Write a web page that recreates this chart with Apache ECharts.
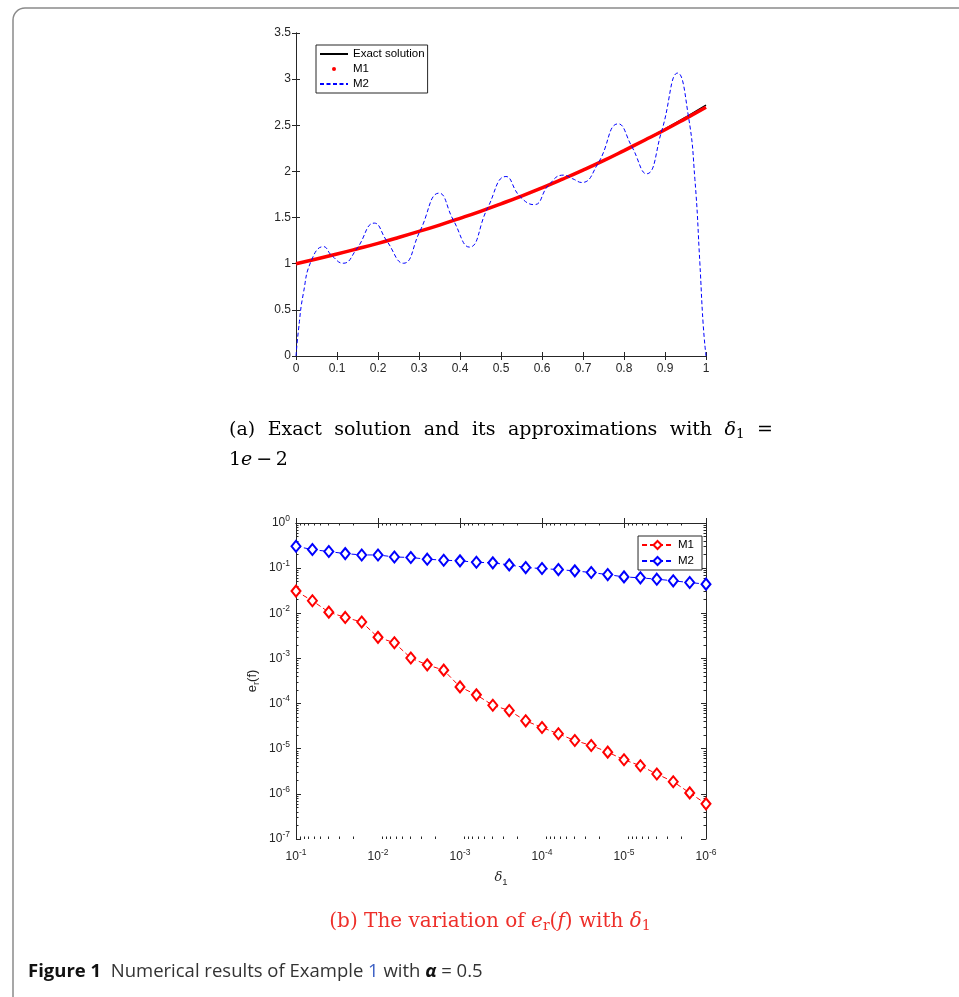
<!DOCTYPE html>
<html><head><meta charset="utf-8">
<script src="https://cdn.jsdelivr.net/npm/echarts@6/dist/echarts.min.js"></script>
<style>html,body{margin:0;padding:0;background:#fff;}#c{width:959px;height:997px;}</style>
</head><body><div id="c"></div>
<script>
// ---------- Panel (a) data ----------
const xExact = [0,0.05,0.1,0.15,0.2,0.25,0.3,0.35,0.4,0.45,0.5,0.55,0.6,0.65,0.7,0.75,0.8,0.85,0.9,0.95,1];
const exactVals = [1.000,1.051,1.105,1.162,1.221,1.284,1.350,1.419,1.492,1.568,1.649,1.733,1.822,1.916,2.014,2.117,2.226,2.340,2.460,2.586,2.718];
const m1Vals = [1.000,1.051,1.105,1.162,1.221,1.284,1.350,1.419,1.492,1.568,1.649,1.733,1.822,1.916,2.014,2.117,2.226,2.338,2.452,2.572,2.695];
const xM2 = [0,0.006,0.018,0.038,0.067,0.087,0.115,0.148,0.191,0.221,0.262,0.302,0.349,0.384,0.423,0.467,0.512,0.546,0.581,0.616,0.652,0.675,0.697,0.737,0.786,0.819,0.855,0.892,0.931,0.957,0.973,0.985,0.993,1];
const m2Vals = [0,0.28,0.68,1.04,1.185,1.09,1.005,1.16,1.44,1.25,1.005,1.35,1.765,1.47,1.18,1.60,1.945,1.73,1.64,1.85,1.96,1.92,1.88,2.09,2.516,2.27,1.974,2.44,3.066,2.60,1.91,1.01,0.35,0];

// ---------- Panel (b) data ----------
const deltaVals = [1e-1,6.31e-2,3.98e-2,2.51e-2,1.58e-2,1e-2,6.31e-3,3.98e-3,2.51e-3,1.58e-3,1e-3,6.31e-4,3.98e-4,2.51e-4,1.58e-4,1e-4,6.31e-5,3.98e-5,2.51e-5,1.58e-5,1e-5,6.31e-6,3.98e-6,2.51e-6,1.58e-6,1e-6];
const errM1 = [3.1e-2,1.89e-2,1.06e-2,8.1e-3,6.4e-3,2.93e-3,2.23e-3,1.02e-3,7.2e-4,5.5e-4,2.34e-4,1.56e-4,9.2e-5,7.0e-5,4.15e-5,2.95e-5,2.14e-5,1.52e-5,1.18e-5,8.4e-6,5.7e-6,4.2e-6,2.75e-6,1.86e-6,1.05e-6,6.0e-7];
const errM2 = [0.305,0.258,0.233,0.21,0.196,0.196,0.177,0.172,0.158,0.15,0.145,0.135,0.131,0.118,0.103,0.098,0.093,0.087,0.080,0.072,0.064,0.061,0.057,0.0524,0.048,0.0442];

// tick definitions
const minorMult = [2,3,4,5,6,7,8,9];
function minorTicks(lo, hi){ const out=[]; for(let n=lo;n<hi;n++){ for(const k of minorMult){ out.push(n+Math.log10(k)); } } return out; }
const minorY = minorTicks(-7, 0);
const minorX = minorTicks(-6, -1);

const AX = '#262626';
const FONT = 'Liberation Sans';
const tickLab = {color: AX, fontFamily: FONT, fontSize: 12};
const supRich = {base:{fontSize:12,fontFamily:FONT,color:AX}, sup:{fontSize:8.5,fontFamily:FONT,color:AX,padding:[0,0,9,0]}};
function powLabel(v){ const e=Math.round(Math.log10(v)); return '{base|10}{sup|'+e+'}'; }

const chart = echarts.init(document.getElementById('c'), null, {renderer:'canvas'});

const gridA = {left:296, right:253, top:33, bottom:641};
const gridB = {left:296, right:253, top:523, bottom:158};

function pairs(xs, ys){ return xs.map((x,i)=>[x, ys[i]]); }

const boxLine = {show:true, lineStyle:{color:AX, width:1}};
const capRed = '#ee2f2a';
const option = {
  animation:false,
  backgroundColor:'#fff',
  grid:[gridA, gridB],
  xAxis:[
    {gridIndex:0, type:'value', min:0, max:1, interval:0.1, position:'bottom',
     axisLine:boxLine, axisTick:{inside:true,length:4,lineStyle:{color:AX}}, splitLine:{show:false},
     axisLabel:Object.assign({margin:7, formatter:v=>String(+v.toFixed(1))}, tickLab)},
    {gridIndex:0, type:'value', min:0, max:1, interval:0.1, position:'top',
     axisLine:boxLine, axisTick:{inside:true,length:4,lineStyle:{color:AX}}, splitLine:{show:false}, axisLabel:{show:false}},
    {gridIndex:1, type:'log', logBase:10, min:1e-6, max:1e-1, inverse:true, position:'bottom',
     axisLine:boxLine, axisTick:{inside:true,length:5,lineStyle:{color:AX}}, splitLine:{show:false}, minorTick:{show:false},
     axisLabel:{margin:9, formatter:powLabel, rich:supRich},
     name:'{d|δ}{s|1}', nameLocation:'middle', nameGap:30,
     nameTextStyle:{rich:{d:{fontSize:13,fontFamily:'DejaVu Serif',fontStyle:'italic',color:AX}, s:{fontSize:9.5,fontFamily:FONT,color:AX,padding:[8,0,0,0]}}}},
    {gridIndex:1, type:'log', logBase:10, min:1e-6, max:1e-1, inverse:true, position:'top',
     axisLine:boxLine, axisTick:{inside:true,length:5,lineStyle:{color:AX}}, splitLine:{show:false}, axisLabel:{show:false}},
    {gridIndex:1, type:'value', min:-6, max:-1, inverse:true, position:'bottom',
     axisLine:{show:false}, axisTick:{inside:true,length:2.5,customValues:minorX,lineStyle:{color:AX}}, splitLine:{show:false}, axisLabel:{show:false}},
    {gridIndex:1, type:'value', min:-6, max:-1, inverse:true, position:'top',
     axisLine:{show:false}, axisTick:{inside:true,length:2.5,customValues:minorX,lineStyle:{color:AX}}, splitLine:{show:false}, axisLabel:{show:false}}
  ],
  yAxis:[
    {gridIndex:0, type:'value', min:0, max:3.5, interval:0.5, position:'left',
     axisLine:boxLine, axisTick:{inside:true,length:4,lineStyle:{color:AX}}, splitLine:{show:false},
     axisLabel:Object.assign({margin:5}, tickLab)},
    {gridIndex:0, type:'value', min:0, max:3.5, interval:0.5, position:'right',
     axisLine:boxLine, axisTick:{inside:true,length:4,lineStyle:{color:AX}}, splitLine:{show:false}, axisLabel:{show:false}},
    {gridIndex:1, type:'log', logBase:10, min:1e-7, max:1, position:'left',
     axisLine:boxLine, axisTick:{inside:true,length:5,lineStyle:{color:AX}}, splitLine:{show:false}, minorTick:{show:false},
     axisLabel:{margin:6, formatter:powLabel, rich:supRich},
     name:'{e|e}{s|r}{e|(f)}', nameLocation:'middle', nameGap:35, nameRotate:90,
     nameTextStyle:{rich:{e:{fontSize:13,fontFamily:FONT,color:AX}, s:{fontSize:9.5,fontFamily:FONT,color:AX,padding:[8,0,0,0]}}}},
    {gridIndex:1, type:'log', logBase:10, min:1e-7, max:1, position:'right',
     axisLine:boxLine, axisTick:{inside:true,length:5,lineStyle:{color:AX}}, splitLine:{show:false}, axisLabel:{show:false}},
    {gridIndex:1, type:'value', min:-7, max:0, position:'left',
     axisLine:{show:false}, axisTick:{inside:true,length:2.5,customValues:minorY,lineStyle:{color:AX}}, splitLine:{show:false}, axisLabel:{show:false}},
    {gridIndex:1, type:'value', min:-7, max:0, position:'right',
     axisLine:{show:false}, axisTick:{inside:true,length:2.5,customValues:minorY,lineStyle:{color:AX}}, splitLine:{show:false}, axisLabel:{show:false}}
  ],
  legend:[
    {left:316, top:45, orient:'vertical', itemWidth:28, itemHeight:5, itemGap:3,
     padding:[3,3,3,3], borderColor:'#262626', borderWidth:1, borderRadius:0, backgroundColor:'#fff',
     textStyle:{fontFamily:FONT, fontSize:11.5, color:'#000'}, selectedMode:false,
     data:[{name:'Exact solution', itemStyle:{opacity:0}}, {name:'M1', lineStyle:{opacity:0}}, {name:'M2', itemStyle:{opacity:0}}]},
    {right:257, top:536, orient:'vertical', itemWidth:31, itemHeight:10, itemGap:4,
     padding:[3,8,3,3], borderColor:'#262626', borderWidth:1, borderRadius:0, backgroundColor:'#fff',
     textStyle:{fontFamily:FONT, fontSize:11.5, color:'#000'}, selectedMode:false,
     formatter:n=>n.replace('_b',''),
     data:['M1_b','M2_b']}
  ],
  series:[
    {name:'Exact solution', type:'line', xAxisIndex:0, yAxisIndex:0, data:pairs(xExact, exactVals), smooth:true,
     symbol:'none', lineStyle:{color:'#000', width:1.5}, itemStyle:{color:'#000'}},
    {name:'M1', type:'line', xAxisIndex:0, yAxisIndex:0, data:pairs(xExact, m1Vals), smooth:true,
     symbol:'none', lineStyle:{color:'#ff0000', width:3.5}, itemStyle:{color:'#ff0000'}},
    {name:'M2', type:'line', xAxisIndex:0, yAxisIndex:0, data:pairs(xM2, m2Vals), smooth:0.5,
     symbol:'none', lineStyle:{color:'#0000ff', width:1, type:[4,2.5]}, itemStyle:{color:'#0000ff'}},
    {name:'M1_b', type:'line', xAxisIndex:2, yAxisIndex:2, data:pairs(deltaVals, errM1),
     symbol:'emptyDiamond', symbolSize:[9,11], showAllSymbol:true,
     lineStyle:{color:'#ff0000', width:1, type:[5,3]}, itemStyle:{color:'#ff0000', borderWidth:1}},
    {name:'M2_b', type:'line', xAxisIndex:2, yAxisIndex:2, data:pairs(deltaVals, errM2),
     symbol:'emptyDiamond', symbolSize:[9,11], showAllSymbol:true,
     lineStyle:{color:'#0000ff', width:1, type:[5,3]}, itemStyle:{color:'#0000ff', borderWidth:1}}
  ],
  graphic:[
    {type:'rect', silent:true, shape:{x:13, y:8, width:1100, height:1200, r:[12,0,0,0]},
     style:{stroke:'#8a8a8a', lineWidth:1.5, fill:'none'}},
    {type:'text', left:229, top:421, silent:true,
     style:{text:'(a){w| }Exact{w| }solution{w| }and{w| }its{w| }approximations{w| }with{w| }{d|δ}{s|1}{w| }=', fontFamily:'DejaVu Serif', fontSize:19, fill:'#000',
       rich:{w:{width:12.5, fontSize:19, fontFamily:'DejaVu Serif'},
             d:{fontFamily:'DejaVu Serif', fontStyle:'italic', fontSize:19, fill:'#000'}, s:{fontFamily:'DejaVu Serif', fontSize:13.5, fill:'#000', padding:[8,0,0,0]}}}},
    {type:'text', left:229, top:451, silent:true,
     style:{text:'1{i|e}\u2009−\u20092', fontFamily:'DejaVu Serif', fontSize:19, fill:'#000',
       rich:{i:{fontFamily:'DejaVu Serif', fontStyle:'italic', fontSize:19, fill:'#000'}}}},
    {type:'text', x:490, y:922, silent:true,
     style:{text:'(b) The variation of {i|e}{s|r}({i|f}) with {i|δ}{s|1}', fontFamily:'DejaVu Serif', fontSize:20, fill:capRed, align:'center', verticalAlign:'middle',
       rich:{i:{fontFamily:'DejaVu Serif', fontStyle:'italic', fontSize:20, fill:capRed}, s:{fontFamily:'DejaVu Serif', fontSize:14, fill:capRed, padding:[9,0,0,0]}}}},
    {type:'text', left:28, top:962, silent:true,
     style:{text:'{b|Figure 1}  Numerical results of Example {l|1} with {a|α} = 0.5', fontFamily:'Open Sans', fontSize:18.5, fill:'#333',
       rich:{b:{fontFamily:'Open Sans', fontWeight:'bold', fontSize:18.5, fill:'#111'}, l:{fontFamily:'Open Sans', fontSize:18.5, fill:'#3b5fc4'}, a:{fontFamily:'Open Sans', fontWeight:'bold', fontStyle:'italic', fontSize:18.5, fill:'#111'}}}}
  ]
};
chart.setOption(option);
</script></body></html>
